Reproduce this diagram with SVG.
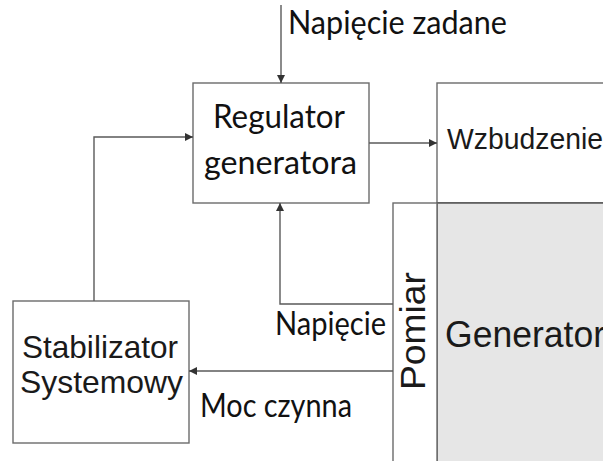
<svg xmlns="http://www.w3.org/2000/svg" width="603" height="461" viewBox="0 0 603 461">
  <style>
    .box { fill: #ffffff; stroke: #6b6b6b; stroke-width: 1.4; }
    .gen { fill: #e6e6e6; stroke: #4a4a4a; stroke-width: 1.4; }
    .wire { fill: none; stroke: #5a5a5a; stroke-width: 1.4; }
    .cal { font-family: Lato, "Open Sans", sans-serif; font-size: 32px; fill: #111111; }
    .ari { font-family: "Liberation Sans", Arial, sans-serif; fill: #1a1a1a; }
  </style>
  <defs>
    <marker id="arrow" viewBox="0 0 10 10" refX="10" refY="5" markerWidth="8" markerHeight="8" markerUnits="userSpaceOnUse" orient="auto">
      <path d="M0,0 L10,5 L0,10 z" fill="#333333"/>
    </marker>
  </defs>

  <!-- generator block: excitation, measurement strip, machine body -->
  <g id="wzbudzenie">
    <rect class="box" x="437" y="83" width="180" height="120"/>
    <text class="ari" x="447" y="149" font-size="29" textLength="156" lengthAdjust="spacingAndGlyphs">Wzbudzenie</text>
  </g>
  <g id="generator">
    <rect class="gen" x="437" y="203" width="180" height="270"/>
    <text class="ari" x="445" y="347" font-size="37" textLength="160" lengthAdjust="spacingAndGlyphs">Generator</text>
  </g>
  <g id="pomiar">
    <rect class="box" x="393" y="203" width="44" height="270"/>
    <text class="ari" transform="translate(425,390) rotate(-90)" x="0" y="0" font-size="35" textLength="118" lengthAdjust="spacingAndGlyphs">Pomiar</text>
  </g>

  <g id="regulator">
    <rect class="box" x="193" y="83" width="176" height="120"/>
    <text class="cal" x="213" y="128" textLength="132" lengthAdjust="spacingAndGlyphs">Regulator</text>
    <text class="cal" x="204" y="174" textLength="153" lengthAdjust="spacingAndGlyphs">generatora</text>
  </g>

  <g id="stabilizator">
    <rect class="box" x="13" y="301" width="176" height="142"/>
    <text class="ari" x="22" y="358" font-size="31.5" textLength="156" lengthAdjust="spacingAndGlyphs">Stabilizator</text>
    <text class="ari" x="20" y="393" font-size="31.5" textLength="163" lengthAdjust="spacingAndGlyphs">Systemowy</text>
  </g>

  <!-- signal paths -->
  <g id="connectors">
    <line class="wire" x1="281" y1="5" x2="281" y2="83" marker-end="url(#arrow)"/>
    <line class="wire" x1="369" y1="143" x2="437" y2="143" marker-end="url(#arrow)"/>
    <polyline class="wire" points="393,304 280,304 280,203" marker-end="url(#arrow)"/>
    <line class="wire" x1="393" y1="371" x2="189" y2="371" marker-end="url(#arrow)"/>
    <polyline class="wire" points="94,301 94,137 193,137" marker-end="url(#arrow)"/>
  </g>

  <g id="labels">
    <text class="cal" x="288" y="34" textLength="219" lengthAdjust="spacingAndGlyphs">Napięcie zadane</text>
    <text class="cal" x="275" y="335" textLength="111" lengthAdjust="spacingAndGlyphs">Napięcie</text>
    <text class="cal" x="200" y="417" textLength="152" lengthAdjust="spacingAndGlyphs">Moc czynna</text>
  </g>
</svg>
